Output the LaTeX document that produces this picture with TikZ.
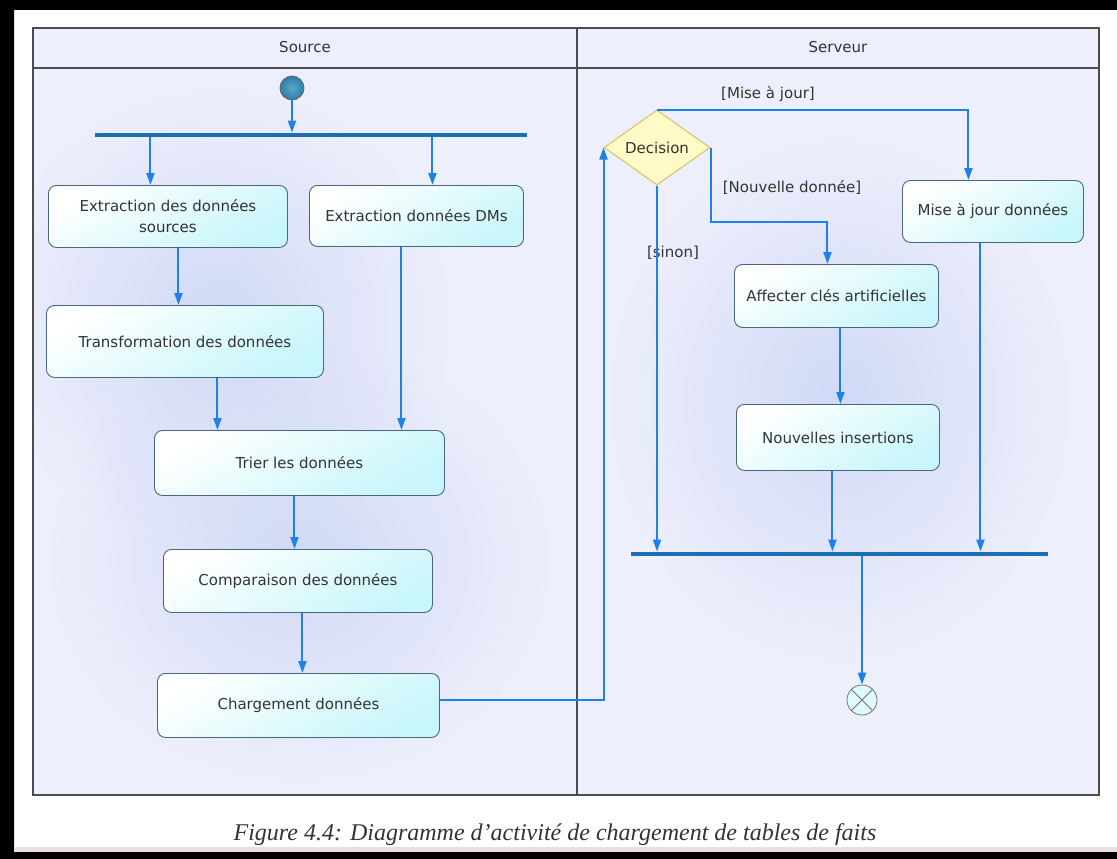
\documentclass[tikz,border=0pt]{standalone}
\usepackage{fontspec}
\setsansfont{DejaVu Sans}
\setmainfont{Liberation Serif}
\usepackage{tikz}
\usetikzlibrary{shapes.geometric,arrows.meta,fadings}
\definecolor{fondCouloir}{RGB}{238,239,252}
\definecolor{halo}{RGB}{208,217,246}
\definecolor{bordAction}{RGB}{72,102,128}
\definecolor{fondAction}{RGB}{200,246,250}
\definecolor{bleuFleche}{RGB}{30,128,235}
\definecolor{bleuBarre}{RGB}{28,112,178}
\definecolor{jauneLosange}{RGB}{255,250,200}
\definecolor{bordLosange}{RGB}{212,196,92}
\definecolor{debutClair}{RGB}{90,170,205}
\definecolor{debutFonce}{RGB}{45,125,165}
\definecolor{bandeRose}{RGB}{232,222,228}
\def \texteAction {\sffamily\fontsize{15}{21}\selectfont}
\tikzfading[name=fonduHalo,inner color=transparent!0,outer color=transparent!100]
\tikzset{
  action/.style={draw=bordAction,line width=0.9pt,rounded corners=8pt,top color=white,bottom color=fondAction,shading angle=30,text=black!80,font=\texteAction,align=center,inner sep=0pt,anchor=north west},
  transition/.style={draw=bleuFleche,line width=2pt,-{Triangle[width=8pt,length=12pt]}},
  barre/.style={fill=bleuBarre,minimum height=4.5pt,inner sep=0pt,draw=none},
  losange/.style={diamond,draw=bordLosange,line width=1pt,fill=jauneLosange,minimum width=106pt,minimum height=75pt,aspect=1.41,inner sep=0pt,text=black!80,font=\texteAction},
  garde/.style={text=black!80,font=\texteAction},
  cadre/.style={draw=black!70,line width=1.4pt},
  lueur/.style={fill=halo,path fading=fonduHalo}
}
\begin{document}
\begin{tikzpicture}[x=1pt,y=-1pt]
  \useasboundingbox (0,0) rectangle (1117,859);
  \fill[white] (0,0) rectangle (1117,859);
  \fill[fondCouloir] (33,28) rectangle (1099,795);
  \begin{scope}
    \clip (33,68) rectangle (1099,795);
    \fill[lueur] (220,320) ellipse (230 and 230);
    \fill[lueur] (300,560) ellipse (250 and 220);
    \fill[lueur] (840,400) ellipse (230 and 260);
  \end{scope}
  \draw[cadre] (33,28) rectangle (1099,795) (33,68) -- (1099,68) (577,28) -- (577,795);
  \node[garde] (titreSource) at (305,47) {Source};
  \node[garde] (titreServeur) at (838,47) {Serveur};

  \node[circle,draw=black!60,line width=0.8pt,inner color=debutClair,outer color=debutFonce,minimum size=24pt,inner sep=0pt] (debut) at (292,88) {};
  \node[barre,minimum width=432pt] (fourche) at (311,135) {};
  \node[action,minimum width=239pt,minimum height=62pt] (extrSources) at (48,185) {Extraction des données\\sources};
  \node[action,minimum width=214pt,minimum height=61pt] (extrDMs) at (309,185) {Extraction données DMs};
  \node[action,minimum width=277pt,minimum height=72pt] (transfo) at (46,305) {Transformation des données};
  \node[action,minimum width=290pt,minimum height=65pt] (trier) at (154,430) {Trier les données};
  \node[action,minimum width=269pt,minimum height=63pt] (comparer) at (163,549) {Comparaison des données};
  \node[action,minimum width=282pt,minimum height=64pt] (charger) at (157,673) {Chargement données};

  \node[losange] (decision) at (657,147.5) {Decision};
  \node[action,minimum width=181pt,minimum height=62pt] (majDonnees) at (902,180) {Mise à jour données};
  \node[action,minimum width=204pt,minimum height=63pt] (clesArt) at (734,264) {Affecter clés artificielles};
  \node[action,minimum width=203pt,minimum height=66pt] (insertions) at (736,404) {Nouvelles insertions};
  \node[barre,minimum width=417pt] (jonction) at (839.5,554) {};
  \node[circle,draw=black!55,line width=0.8pt,fill=fondAction!60,minimum size=30pt,inner sep=0pt] (fin) at (862,700) {};
  \draw[black!55,line width=0.8pt] (fin.north west) -- (fin.south east) (fin.north east) -- (fin.south west);

  \node[garde] (lblMaj) at (768,94) {[Mise à jour]};
  \node[garde] (lblNouv) at (792,187) {[Nouvelle donnée]};
  \node[garde] (lblSinon) at (673,253) {[sinon]};

  \draw[transition] (debut.south) -- (debut |- fourche.north);
  \draw[transition] ([xshift=-17.5pt]extrSources.north |- fourche.south) -- ([xshift=-17.5pt]extrSources.north);
  \draw[transition] ([xshift=16pt]extrDMs.north |- fourche.south) -- ([xshift=16pt]extrDMs.north);
  \draw[transition] ([xshift=10.5pt]extrSources.south) -- ([xshift=10.5pt]extrSources.south |- transfo.north);
  \draw[transition] ([xshift=32.5pt]transfo.south) -- ([xshift=32.5pt]transfo.south |- trier.north);
  \draw[transition] ([xshift=-15pt]extrDMs.south) -- ([xshift=-15pt]extrDMs.south |- trier.north);
  \draw[transition] ([xshift=-5pt]trier.south) -- ([xshift=-5pt]trier.south |- comparer.north);
  \draw[transition] ([xshift=4.5pt]comparer.south) -- ([xshift=4.5pt]comparer.south |- charger.north);
  \draw[transition] ([yshift=5pt]charger.east) -| (decision.west);
  \draw[transition] (decision.north) -| ([xshift=-24.5pt]majDonnees.north);
  \draw[transition] (decision.east) -- ++(0,74) -| ([xshift=-9pt]clesArt.north);
  \draw[transition] (decision.south) -- (decision.south |- jonction.north);
  \draw[transition] ([xshift=4pt]clesArt.south) -- ([xshift=4pt]clesArt.south |- insertions.north);
  \draw[transition] ([xshift=-5.5pt]insertions.south) -- ([xshift=-5.5pt]insertions.south |- jonction.north);
  \draw[transition] ([xshift=-12.5pt]majDonnees.south) -- ([xshift=-12.5pt]majDonnees.south |- jonction.north);
  \draw[transition] (fin |- jonction.south) -- (fin.north);

  \node[font=\rmfamily\itshape\fontsize{24}{28}\selectfont,text=black!80] (legende) at (555,835) {Figure 4.4: Diagramme d’activité de chargement de tables de faits};
  \fill[black] (0,0) rectangle (1117,10) (0,0) rectangle (14,859) (0,852) rectangle (1117,859);
  \fill[bandeRose] (14,847) rectangle (1117,852);
\end{tikzpicture}
\end{document}
